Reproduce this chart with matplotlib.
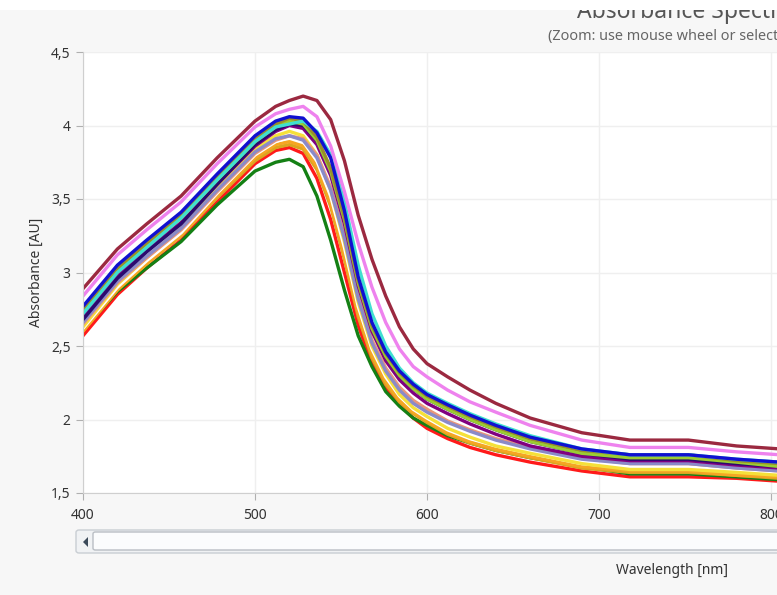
import matplotlib.pyplot as plt
from matplotlib.patches import Rectangle, FancyBboxPatch, Polygon
from matplotlib.ticker import FuncFormatter

plt.rcParams['font.family'] = ['Noto Sans', 'DejaVu Sans']

# wavelength grid, nm
wl = [400, 420, 437, 457, 478, 500, 512, 520, 528, 536, 544, 552, 560, 568, 576,
      584, 592, 600, 612, 625, 640, 660, 690, 718, 752, 780, 805]

# absorbance series (AU)
maroon = [2.89, 3.16, 3.33, 3.52, 3.78, 4.03, 4.13, 4.17, 4.20, 4.17, 4.04, 3.76, 3.39, 3.09,
          2.84, 2.63, 2.48, 2.38, 2.29, 2.20, 2.11, 2.01, 1.91, 1.86, 1.86, 1.82, 1.80]
violet = [2.84, 3.12, 3.29, 3.48, 3.74, 3.99, 4.08, 4.11, 4.13, 4.06, 3.86, 3.55, 3.20, 2.90,
          2.66, 2.48, 2.36, 2.29, 2.20, 2.12, 2.05, 1.96, 1.86, 1.81, 1.81, 1.78, 1.76]
blue = [2.77, 3.05, 3.22, 3.41, 3.67, 3.93, 4.03, 4.06, 4.05, 3.95, 3.78, 3.42, 2.97, 2.66,
        2.46, 2.33, 2.24, 2.17, 2.10, 2.03, 1.96, 1.88, 1.80, 1.76, 1.76, 1.73, 1.71]
turquoise = [2.72, 3.00, 3.17, 3.37, 3.63, 3.89, 3.99, 4.01, 4.03, 3.96, 3.80, 3.48, 3.05, 2.72,
             2.50, 2.35, 2.25, 2.18, 2.11, 2.04, 1.97, 1.89, 1.80, 1.76, 1.76, 1.73, 1.71]
olive = [2.75, 3.03, 3.20, 3.39, 3.65, 3.91, 4.01, 4.05, 4.03, 3.92, 3.71, 3.38, 2.95, 2.64,
         2.45, 2.32, 2.23, 2.16, 2.09, 2.02, 1.95, 1.87, 1.79, 1.76, 1.76, 1.72, 1.70]
yellowgreen = [2.73, 3.01, 3.18, 3.37, 3.63, 3.89, 3.99, 4.03, 4.01, 3.90, 3.69, 3.36, 2.93, 2.62,
               2.43, 2.30, 2.21, 2.14, 2.07, 2.00, 1.93, 1.85, 1.77, 1.74, 1.74, 1.71, 1.68]
indigo = [2.68, 2.96, 3.14, 3.33, 3.60, 3.87, 3.97, 4.01, 4.00, 3.90, 3.70, 3.38, 2.95, 2.63,
          2.43, 2.30, 2.21, 2.14, 2.07, 2.00, 1.93, 1.85, 1.77, 1.73, 1.73, 1.70, 1.68]
purple = [2.70, 2.98, 3.15, 3.34, 3.60, 3.86, 3.96, 4.00, 3.98, 3.87, 3.66, 3.33, 2.91, 2.60,
          2.40, 2.27, 2.18, 2.11, 2.04, 1.97, 1.90, 1.82, 1.75, 1.72, 1.72, 1.69, 1.67]
slate = [2.66, 2.94, 3.11, 3.30, 3.56, 3.82, 3.91, 3.93, 3.90, 3.78, 3.56, 3.23, 2.82, 2.52,
         2.33, 2.20, 2.11, 2.05, 1.98, 1.92, 1.86, 1.80, 1.73, 1.70, 1.70, 1.67, 1.65]
salmon = [2.65, 2.93, 3.10, 3.29, 3.55, 3.81, 3.90, 3.93, 3.91, 3.80, 3.58, 3.25, 2.84, 2.54,
          2.35, 2.22, 2.13, 2.07, 1.99, 1.93, 1.87, 1.81, 1.74, 1.70, 1.70, 1.67, 1.65]
gold = [2.63, 2.92, 3.10, 3.30, 3.57, 3.84, 3.93, 3.96, 3.93, 3.80, 3.56, 3.21, 2.80, 2.50,
        2.31, 2.17, 2.08, 2.02, 1.94, 1.88, 1.82, 1.77, 1.70, 1.66, 1.66, 1.64, 1.62]
white = [2.62, 2.90, 3.08, 3.27, 3.54, 3.80, 3.89, 3.92, 3.89, 3.76, 3.52, 3.17, 2.77, 2.48,
         2.29, 2.16, 2.07, 2.01, 1.93, 1.87, 1.82, 1.77, 1.70, 1.67, 1.67, 1.65, 1.63]
orange = [2.60, 2.88, 3.06, 3.25, 3.52, 3.78, 3.87, 3.89, 3.86, 3.72, 3.47, 3.11, 2.72, 2.44,
          2.26, 2.13, 2.05, 1.99, 1.91, 1.85, 1.80, 1.75, 1.68, 1.65, 1.65, 1.62, 1.61]
goldenrod = [2.62, 2.89, 3.06, 3.25, 3.51, 3.76, 3.85, 3.87, 3.84, 3.70, 3.45, 3.09, 2.70, 2.42,
             2.24, 2.12, 2.04, 1.98, 1.90, 1.84, 1.79, 1.74, 1.67, 1.64, 1.64, 1.62, 1.60]
red = [2.57, 2.85, 3.03, 3.22, 3.48, 3.74, 3.83, 3.85, 3.81, 3.64, 3.36, 3.00, 2.64, 2.38,
       2.21, 2.10, 2.01, 1.94, 1.87, 1.81, 1.76, 1.71, 1.65, 1.61, 1.61, 1.60, 1.58]
green = [2.61, 2.87, 3.03, 3.21, 3.46, 3.69, 3.75, 3.77, 3.72, 3.52, 3.22, 2.88, 2.57, 2.36,
         2.19, 2.09, 2.01, 1.96, 1.89, 1.84, 1.79, 1.74, 1.68, 1.63, 1.63, 1.61, 1.59]

series = [
    (red, '#ff1a1a'), (green, '#148014'), (goldenrod, '#daa520'), (orange, '#f5a623'),
    (white, '#ffffff'), (gold, '#f5e03a'), (salmon, '#e9967a'), (slate, '#8a8ac8'),
    (purple, '#800080'), (indigo, '#2a0a6e'), (yellowgreen, '#9acd32'), (olive, '#9a8f2a'),
    (turquoise, '#40e0d0'), (blue, '#1010d0'), (violet, '#ee82ee'), (maroon, '#9b2940'),
]

fig = plt.figure(figsize=(7.77, 5.95), dpi=100, facecolor='#f7f7f7')
ax = fig.add_axes([83 / 777, 1 - 493 / 595, 1 - 83 / 777, 441 / 595])
ax.set_facecolor('white')

for vals, col in series:
    ax.plot(wl, vals, color=col, lw=2.4, solid_joinstyle='round')

ax.set_xlim(400, 803.5)
ax.set_ylim(1.5, 4.5)
ax.set_xticks([400, 500, 600, 700, 800])
ax.set_yticks([1.5, 2, 2.5, 3, 3.5, 4, 4.5])
ax.yaxis.set_major_formatter(FuncFormatter(lambda v, p: ('%g' % v).replace('.', ',')))
ax.grid(True, color='#efefef', lw=1)
ax.set_axisbelow(True)
for s in ['top', 'right']:
    ax.spines[s].set_visible(False)
for s in ['left', 'bottom']:
    ax.spines[s].set_color('#cfcfcf')
ax.tick_params(colors='#b0b0b0', labelcolor='#333333', labelsize=10, length=5)
ax.tick_params(axis='y', pad=4)
ax.tick_params(axis='x', pad=6)

ax.set_ylabel('Absorbance [AU]', fontsize=10, color='#333333', labelpad=5)
fig.text(672 / 777, 1 - 571 / 595, 'Wavelength [nm]', fontsize=10, color='#333333',
         ha='center', va='center')

# title (cut off at the top) and subtitle
fig.text(577 / 777, 1 - 18 / 595, 'Absorbance Spectra', fontsize=16.5, color='#555555',
         ha='left', va='baseline')
fig.text(548 / 777, 1 - 36 / 595, '(Zoom: use mouse wheel or select a region)',
         fontsize=10.4, color='#666666', ha='left', va='center')
fig.patches.append(Rectangle((0, 1 - 10 / 595), 1, 10 / 595, transform=fig.transFigure,
                             facecolor='white', edgecolor='none', zorder=10))

# scrollbar under the x axis
fig.patches.append(FancyBboxPatch((76 / 777, 1 - 553 / 595), 720 / 777, 23 / 595,
                                  boxstyle='round,pad=0,rounding_size=0.004',
                                  transform=fig.transFigure, facecolor='#f0f2f4',
                                  edgecolor='#c9ced3', lw=1))
fig.patches.append(FancyBboxPatch((93 / 777, 1 - 550 / 595), 700 / 777, 18 / 595,
                                  boxstyle='round,pad=0,rounding_size=0.003',
                                  transform=fig.transFigure, facecolor='#fbfcfd',
                                  edgecolor='#b9bec4', lw=1))
fig.patches.append(Polygon([(88 / 777, 1 - 537 / 595), (88 / 777, 1 - 547 / 595),
                            (83 / 777, 1 - 542 / 595)], closed=True,
                           transform=fig.transFigure, facecolor='#3b4a5a',
                           edgecolor='none'))

fig.savefig('out.png', dpi=100, facecolor=fig.get_facecolor())
